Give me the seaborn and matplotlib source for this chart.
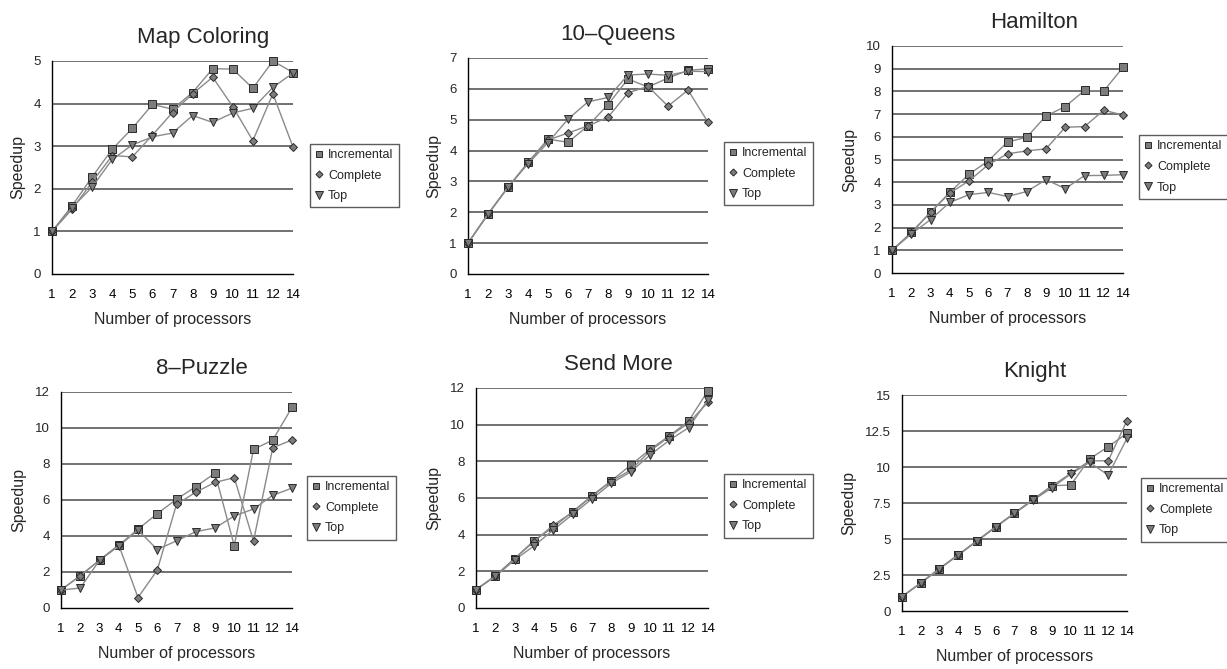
import matplotlib
matplotlib.use("Agg")
import matplotlib.pyplot as plt
from matplotlib.lines import Line2D
import numpy as np
import seaborn as sns

# x categories (number of processors)
procs = ["1", "2", "3", "4", "5", "6", "7", "8", "9", "10", "11", "12", "14"]
series_names = ["Incremental", "Complete", "Top"]

# Map Coloring
map_inc = [1.0, 1.6, 2.28, 2.93, 3.42, 3.98, 3.87, 4.26, 4.82, 4.81, 4.36, 5.0, 4.73]
map_com = [1.0, 1.52, 2.16, 2.78, 2.75, 3.26, 3.79, 4.23, 4.62, 3.93, 3.13, 4.23, 2.98]
map_top = [1.0, 1.56, 2.04, 2.69, 3.03, 3.22, 3.31, 3.72, 3.56, 3.78, 3.89, 4.38, 4.72]

# 10-Queens
q_inc = [1.0, 1.94, 2.81, 3.62, 4.37, 4.27, 4.8, 5.49, 6.32, 6.06, 6.35, 6.6, 6.65]
q_com = [1.0, 1.93, 2.81, 3.6, 4.34, 4.57, 4.8, 5.08, 5.87, 6.08, 5.44, 5.96, 4.92]
q_top = [1.0, 1.95, 2.82, 3.57, 4.26, 5.02, 5.58, 5.72, 6.45, 6.48, 6.44, 6.57, 6.56]

# Hamilton
h_inc = [1.0, 1.79, 2.68, 3.55, 4.35, 4.94, 5.77, 5.98, 6.92, 7.33, 8.04, 8.02, 9.06]
h_com = [1.0, 1.75, 2.67, 3.52, 4.06, 4.77, 5.25, 5.38, 5.47, 6.42, 6.45, 7.17, 6.96]
h_top = [1.0, 1.72, 2.35, 3.11, 3.45, 3.55, 3.37, 3.59, 4.11, 3.72, 4.29, 4.3, 4.33]

# 8-Puzzle
p_inc = [1.0, 1.79, 2.66, 3.49, 4.38, 5.24, 6.04, 6.74, 7.49, 3.46, 8.81, 9.33, 11.15]
p_com = [1.0, 1.8, 2.65, 3.5, 0.58, 2.1, 5.76, 6.43, 6.98, 7.24, 3.72, 8.9, 9.34]
p_top = [1.0, 1.11, 2.65, 3.44, 4.33, 3.25, 3.73, 4.24, 4.45, 5.11, 5.5, 6.26, 6.66]

# Send More
s_inc = [1.0, 1.76, 2.7, 3.68, 4.4, 5.26, 6.13, 6.94, 7.79, 8.65, 9.39, 10.2, 11.86]
s_com = [1.0, 1.75, 2.7, 3.62, 4.53, 5.22, 6.1, 6.92, 7.52, 8.56, 9.35, 10.1, 11.22]
s_top = [1.0, 1.72, 2.62, 3.39, 4.26, 5.11, 5.95, 6.8, 7.43, 8.34, 9.15, 9.84, 11.35]

# Knight
k_inc = [1.0, 1.95, 2.95, 3.9, 4.88, 5.85, 6.8, 7.75, 8.7, 8.75, 10.56, 11.41, 12.34]
k_com = [1.0, 1.95, 2.95, 3.9, 4.88, 5.85, 6.8, 7.75, 8.68, 9.56, 10.42, 10.44, 13.22]
k_top = [1.0, 1.93, 2.93, 3.88, 4.85, 5.82, 6.78, 7.7, 8.56, 9.51, 10.32, 9.44, 11.99]

titles = ["Map Coloring", "10\u2013Queens", "Hamilton", "8\u2013Puzzle", "Send More", "Knight"]
yticks = [
    [0, 1, 2, 3, 4, 5],
    [0, 1, 2, 3, 4, 5, 6, 7],
    [0, 1, 2, 3, 4, 5, 6, 7, 8, 9, 10],
    [0, 2, 4, 6, 8, 10, 12],
    [0, 2, 4, 6, 8, 10, 12],
    [0, 2.5, 5, 7.5, 10, 12.5, 15],
]
ytick_labels = [
    None, None, None, None, None,
    ["0", "2.5", "5", "7.5", "10", "12.5", "15"],
]
data = [
    (map_inc, map_com, map_top),
    (q_inc, q_com, q_top),
    (h_inc, h_com, h_top),
    (p_inc, p_com, p_top),
    (s_inc, s_com, s_top),
    (k_inc, k_com, k_top),
]

W, H = 1227, 669
# axes boxes in pixels: left, right, top, bottom
boxes = [
    (52, 293, 61, 274),
    (468, 708, 58, 274),
    (892, 1123, 46, 273),
    (61, 292, 392, 608),
    (476, 708, 388, 608),
    (902, 1127, 395, 611),
]
# legend upper-left corner in pixels
legend_pos = [(310, 144), (724, 142), (1139, 135), (307, 476), (724, 474), (1141, 478)]
title_cx = [203, 618, 1034, 202, 618, 1035]

sns.set_style("white")
plt.rcParams["font.family"] = ["Liberation Sans", "DejaVu Sans"]

fig = plt.figure(figsize=(W / 100, H / 100), dpi=100)

markers = ["s", "D", "v"]
msizes = [5.5, 4.2, 6]
fill = "#7c7c7c"
edge = "#2a2a2a"
line_col = "#8a8a8a"
x = np.arange(len(procs))

for i, (l, r, t, b) in enumerate(boxes):
    ax = fig.add_axes([l / W, 1 - b / H, (r - l) / W, (b - t) / H])
    for vals, mk, ms in zip(data[i], markers, msizes):
        sns.lineplot(x=x, y=vals, ax=ax, sort=False, color=line_col, linewidth=1,
                     marker=mk, markersize=ms, markerfacecolor=fill,
                     markeredgecolor=edge, markeredgewidth=0.7, legend=False,
                     clip_on=False, zorder=3)

    ax.set_xlim(0, len(procs) - 1)
    ax.set_ylim(0, yticks[i][-1])
    ax.set_yticks(yticks[i])
    if ytick_labels[i]:
        ax.set_yticklabels(ytick_labels[i])
    ax.set_xticks(x)
    ax.set_xticklabels(procs)
    # tick marks sit between categories, like the spreadsheet axis
    ax.set_xticks(np.concatenate(([0], np.arange(0.5, len(procs) - 1, 1.0), [len(procs) - 1])), minor=True)
    ax.tick_params(axis="x", which="major", length=0, pad=11, labelsize=9.5, colors="black")
    ax.tick_params(axis="x", which="minor", length=4, width=1, direction="out", color="black")
    ax.tick_params(axis="y", which="major", length=3, width=1, direction="out", pad=5,
                   labelsize=9.5, color="black")

    for yv in yticks[i][1:]:
        ax.axhline(yv, color="#4a4a4a", linewidth=1.1, zorder=0)

    for side in ["top", "right"]:
        ax.spines[side].set_visible(False)
    for side in ["left", "bottom"]:
        ax.spines[side].set_color("black")
        ax.spines[side].set_linewidth(1)
        ax.spines[side].set_zorder(1)

    ax.set_xlabel("Number of processors", fontsize=11.5, labelpad=8)
    ax.set_ylabel("Speedup", fontsize=11.5, labelpad=6)
    ax.set_title(titles[i], fontsize=16, pad=13, x=(title_cx[i] - l) / (r - l))

    handles = [Line2D([], [], linestyle="none", marker=mk, markersize=ms * 0.85,
                      markerfacecolor=fill, markeredgecolor=edge, markeredgewidth=0.7)
               for mk, ms in zip(markers, msizes)]
    lx, ly = legend_pos[i]
    leg = ax.legend(handles, series_names, loc="upper left",
                    bbox_to_anchor=((lx - l) / (r - l), (b - ly) / (b - t)),
                    borderaxespad=0, frameon=True, fancybox=False, fontsize=9,
                    handlelength=0.6, handletextpad=0.45, labelspacing=0.7,
                    borderpad=0.4)
    leg.get_frame().set_edgecolor("#333333")
    leg.get_frame().set_linewidth(1)

fig.savefig("out.png", dpi=100)
